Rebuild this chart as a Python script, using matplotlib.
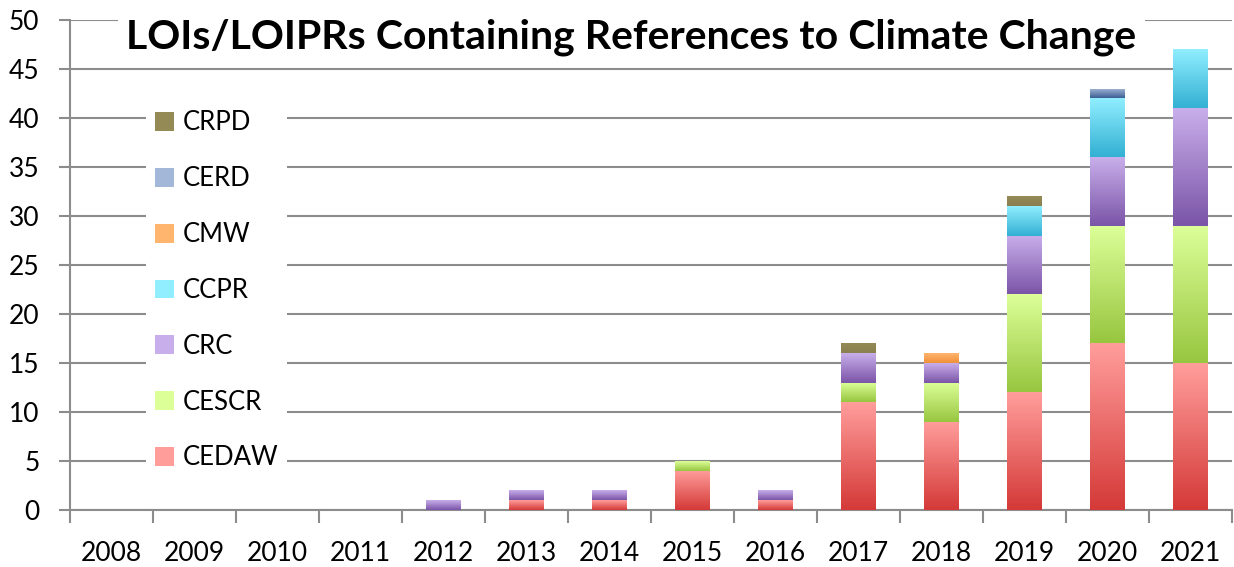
import numpy as np
import matplotlib
matplotlib.use("Agg")
import matplotlib.pyplot as plt
from matplotlib.colors import LinearSegmentedColormap
from matplotlib.patches import Patch

plt.rcParams['font.family'] = ['Lato', 'DejaVu Sans']

# datos
years = ["2008", "2009", "2010", "2011", "2012", "2013", "2014",
         "2015", "2016", "2017", "2018", "2019", "2020", "2021"]
cedaw = [0, 0, 0, 0, 0, 1, 1, 4, 1, 11, 9, 12, 17, 15]
cescr = [0, 0, 0, 0, 0, 0, 0, 1, 0, 2, 4, 10, 12, 14]
crc   = [0, 0, 0, 0, 1, 1, 1, 0, 1, 3, 2, 6, 7, 12]
ccpr  = [0, 0, 0, 0, 0, 0, 0, 0, 0, 0, 0, 3, 6, 6]
cmw   = [0, 0, 0, 0, 0, 0, 0, 0, 0, 0, 1, 0, 0, 0]
cerd  = [0, 0, 0, 0, 0, 0, 0, 0, 0, 0, 0, 0, 1, 0]
crpd  = [0, 0, 0, 0, 0, 0, 0, 0, 0, 1, 0, 1, 0, 0]

series = [("CEDAW", cedaw), ("CESCR", cescr), ("CRC", crc), ("CCPR", ccpr),
          ("CMW", cmw), ("CERD", cerd), ("CRPD", crpd)]

# colores (arriba claro, abajo oscuro)
grad = {
    "CEDAW": ("#ff9d9b", "#d43a38"),
    "CESCR": ("#dcff98", "#98c640"),
    "CRC":   ("#c8aeea", "#7b55a8"),
    "CCPR":  ("#90eeff", "#33b0d3"),
    "CMW":   ("#ffb56e", "#f0903a"),
    "CERD":  ("#a3b8d8", "#3d5e94"),
    "CRPD":  ("#948a56", "#8a8050"),
}

fig = plt.figure(figsize=(12.34, 5.67), dpi=100)
ax = fig.add_axes([70 / 1234, 57 / 567, 1 - 72 / 1234, 490 / 567])

x = np.arange(len(years))
bottom = np.zeros(len(years))
g = np.linspace(1, 0, 64).reshape(-1, 1)
for name, vals in series:
    vals = np.array(vals, dtype=float)
    bars = ax.bar(x, vals, 0.41, bottom=bottom, color=grad[name][0],
                  linewidth=0, zorder=3)
    cmap = LinearSegmentedColormap.from_list(name, [grad[name][1], grad[name][0]])
    for b in bars:
        if b.get_height() <= 0:
            continue
        bx, by = b.get_x(), b.get_y()
        im = ax.imshow(g, cmap=cmap, vmin=0, vmax=1, aspect="auto", zorder=4,
                       extent=[bx, bx + b.get_width(), by, by + b.get_height()],
                       interpolation="bilinear")
        im.set_clip_path(b)
    bottom += vals

ax.set_xlim(-0.5, len(years) - 0.5)
ax.set_ylim(0, 50)
ax.set_yticks(np.arange(0, 51, 5))
ax.set_xticks(x)
ax.set_xticklabels(years)
ax.set_xticks(np.arange(-0.5, len(years), 1), minor=True)
ax.tick_params(axis="x", which="major", length=0, pad=22, labelsize=19)
ax.tick_params(axis="x", which="minor", length=9, width=1.5, color="#8c8c8c")
ax.tick_params(axis="y", length=8, width=1.5, color="#8c8c8c", labelsize=19, pad=14)

ax.grid(axis="y", color="#8c8c8c", linewidth=1.5, zorder=0)
ax.set_axisbelow(True)
for s in ["top", "right"]:
    ax.spines[s].set_visible(False)
for s in ["left", "bottom"]:
    ax.spines[s].set_color("#8c8c8c")
    ax.spines[s].set_linewidth(1.5)

# titulo con fondo blanco sobre la grilla
ax.text(0.483, 0.965, "LOIs/LOIPRs Containing References to Climate Change",
        transform=ax.transAxes, ha="center", va="center", fontsize=29.5,
        fontweight="bold", zorder=6,
        bbox=dict(facecolor="white", edgecolor="none", pad=6))

# leyenda
handles = [Patch(facecolor=grad[n][0], edgecolor="none") for n, _ in series][::-1]
labels = [n for n, _ in series][::-1]
leg = ax.legend(handles, labels, loc="upper left", bbox_to_anchor=(0.054, 0.86),
                fontsize=18.5, frameon=True, facecolor="white", edgecolor="none",
                framealpha=1, labelspacing=1.2, handlelength=0.75, handleheight=0.75,
                handletextpad=0.35, borderpad=0.35)
leg.set_zorder(6)

fig.savefig("out.png", dpi=100)
